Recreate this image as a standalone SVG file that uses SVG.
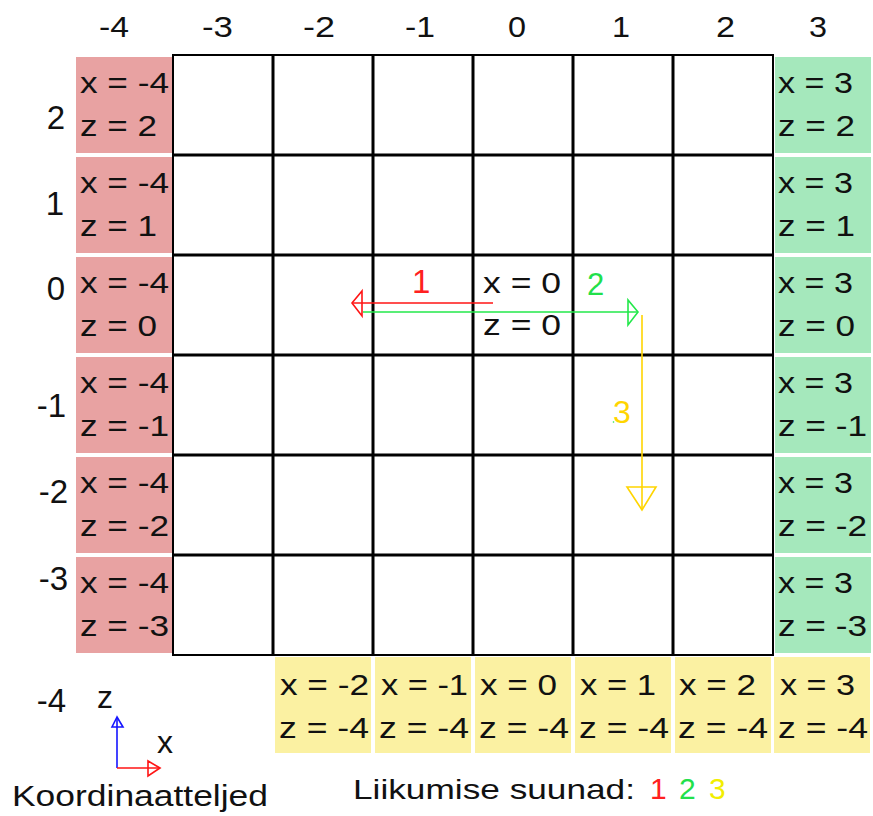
<svg xmlns="http://www.w3.org/2000/svg" width="873" height="816" viewBox="0 0 873 816">
<style>
text{font-family:"Liberation Sans",Arial,sans-serif;fill:#111}
.c{font-size:29px}
.lbl{font-size:30px}
.red{fill:#e8a2a2}
.grn{fill:#a5e8bc}
.yel{fill:#fbf1a2}
.gl{stroke:#000;stroke-width:3}
.ln{fill:none;stroke-width:1.6}
.hd{fill:none;stroke-width:1.6;stroke-linejoin:miter}
</style>
<rect width="873" height="816" fill="#fff"/>
<g id="top-labels" class="lbl">
<text x="99" y="37" textLength="30" lengthAdjust="spacingAndGlyphs">-4</text>
<text x="202" y="37" textLength="31" lengthAdjust="spacingAndGlyphs">-3</text>
<text x="303" y="37" textLength="32" lengthAdjust="spacingAndGlyphs">-2</text>
<text x="405" y="37" textLength="30" lengthAdjust="spacingAndGlyphs">-1</text>
<text x="508" y="37" textLength="18" lengthAdjust="spacingAndGlyphs">0</text>
<text x="612" y="37" textLength="18" lengthAdjust="spacingAndGlyphs">1</text>
<text x="716" y="37" textLength="19" lengthAdjust="spacingAndGlyphs">2</text>
<text x="809" y="37" textLength="18" lengthAdjust="spacingAndGlyphs">3</text>
</g>
<g id="row-labels">
<text x="65" y="129" style="font-size:33px;text-anchor:end">2</text>
<text x="64" y="215" style="font-size:33px;text-anchor:end">1</text>
<text x="65" y="300" style="font-size:33px;text-anchor:end">0</text>
<text x="66" y="417" style="font-size:33px;text-anchor:end">-1</text>
<text x="68" y="503" style="font-size:33px;text-anchor:end">-2</text>
<text x="68" y="590" style="font-size:33px;text-anchor:end">-3</text>
<text x="66" y="712" style="font-size:33px;text-anchor:end">-4</text>
</g>
<g id="grid">
<rect x="173" y="55" width="600" height="600" fill="#fff" stroke="#000" stroke-width="2"/>
<path class="gl" d="M273 55V655M373 55V655M473 55V655M573 55V655M673 55V655M173 155H773M173 255H773M173 355H773M173 455H773M173 555H773"/>
</g>
<g id="red-cells" class="c">
<rect class="red" x="76" y="57" width="96" height="96"/>
<text x="80" y="93" textLength="89" lengthAdjust="spacingAndGlyphs">x = -4</text>
<text x="80" y="136" textLength="77" lengthAdjust="spacingAndGlyphs">z = 2</text>
<rect class="red" x="76" y="157" width="96" height="96"/>
<text x="80" y="193" textLength="89" lengthAdjust="spacingAndGlyphs">x = -4</text>
<text x="80" y="236" textLength="77" lengthAdjust="spacingAndGlyphs">z = 1</text>
<rect class="red" x="76" y="257" width="96" height="96"/>
<text x="80" y="293" textLength="89" lengthAdjust="spacingAndGlyphs">x = -4</text>
<text x="80" y="336" textLength="77" lengthAdjust="spacingAndGlyphs">z = 0</text>
<rect class="red" x="76" y="357" width="96" height="96"/>
<text x="80" y="393" textLength="89" lengthAdjust="spacingAndGlyphs">x = -4</text>
<text x="80" y="436" textLength="89" lengthAdjust="spacingAndGlyphs">z = -1</text>
<rect class="red" x="76" y="457" width="96" height="96"/>
<text x="80" y="493" textLength="89" lengthAdjust="spacingAndGlyphs">x = -4</text>
<text x="80" y="536" textLength="89" lengthAdjust="spacingAndGlyphs">z = -2</text>
<rect class="red" x="76" y="557" width="96" height="96"/>
<text x="80" y="593" textLength="89" lengthAdjust="spacingAndGlyphs">x = -4</text>
<text x="80" y="636" textLength="89" lengthAdjust="spacingAndGlyphs">z = -3</text>
</g>
<g id="green-cells" class="c">
<rect class="grn" x="775" y="57" width="96" height="96"/>
<text x="778" y="93" textLength="75" lengthAdjust="spacingAndGlyphs">x = 3</text>
<text x="778" y="136" textLength="77" lengthAdjust="spacingAndGlyphs">z = 2</text>
<rect class="grn" x="775" y="157" width="96" height="96"/>
<text x="778" y="193" textLength="75" lengthAdjust="spacingAndGlyphs">x = 3</text>
<text x="778" y="236" textLength="77" lengthAdjust="spacingAndGlyphs">z = 1</text>
<rect class="grn" x="775" y="257" width="96" height="96"/>
<text x="778" y="293" textLength="75" lengthAdjust="spacingAndGlyphs">x = 3</text>
<text x="778" y="336" textLength="77" lengthAdjust="spacingAndGlyphs">z = 0</text>
<rect class="grn" x="775" y="357" width="96" height="96"/>
<text x="778" y="393" textLength="75" lengthAdjust="spacingAndGlyphs">x = 3</text>
<text x="778" y="436" textLength="89" lengthAdjust="spacingAndGlyphs">z = -1</text>
<rect class="grn" x="775" y="457" width="96" height="96"/>
<text x="778" y="493" textLength="75" lengthAdjust="spacingAndGlyphs">x = 3</text>
<text x="778" y="536" textLength="89" lengthAdjust="spacingAndGlyphs">z = -2</text>
<rect class="grn" x="775" y="557" width="96" height="96"/>
<text x="778" y="593" textLength="75" lengthAdjust="spacingAndGlyphs">x = 3</text>
<text x="778" y="636" textLength="89" lengthAdjust="spacingAndGlyphs">z = -3</text>
</g>
<g id="yellow-cells" class="c">
<rect class="yel" x="275" y="657" width="96" height="96"/>
<text x="280" y="695" textLength="89" lengthAdjust="spacingAndGlyphs">x = -2</text>
<text x="279" y="738" textLength="90" lengthAdjust="spacingAndGlyphs">z = -4</text>
<rect class="yel" x="375" y="657" width="96" height="96"/>
<text x="381" y="695" textLength="87" lengthAdjust="spacingAndGlyphs">x = -1</text>
<text x="379" y="738" textLength="90" lengthAdjust="spacingAndGlyphs">z = -4</text>
<rect class="yel" x="475" y="657" width="96" height="96"/>
<text x="480" y="695" textLength="77" lengthAdjust="spacingAndGlyphs">x = 0</text>
<text x="479" y="738" textLength="90" lengthAdjust="spacingAndGlyphs">z = -4</text>
<rect class="yel" x="575" y="657" width="96" height="96"/>
<text x="580" y="695" textLength="76" lengthAdjust="spacingAndGlyphs">x = 1</text>
<text x="579" y="738" textLength="90" lengthAdjust="spacingAndGlyphs">z = -4</text>
<rect class="yel" x="675" y="657" width="96" height="96"/>
<text x="679" y="695" textLength="77" lengthAdjust="spacingAndGlyphs">x = 2</text>
<text x="678" y="738" textLength="90" lengthAdjust="spacingAndGlyphs">z = -4</text>
<rect class="yel" x="774" y="657" width="96" height="96"/>
<text x="780" y="695" textLength="75" lengthAdjust="spacingAndGlyphs">x = 3</text>
<text x="778" y="738" textLength="90" lengthAdjust="spacingAndGlyphs">z = -4</text>
</g>
<g id="origin" class="c">
<text x="483" y="293" textLength="78" lengthAdjust="spacingAndGlyphs">x = 0</text>
<text x="483" y="335" textLength="78" lengthAdjust="spacingAndGlyphs">z = 0</text>
</g>
<g id="connectors">
<line class="ln" x1="493" y1="303" x2="353" y2="303" stroke="#ff1515"/>
<polygon class="hd" points="352,303 362,291 362,316" stroke="#ff1515"/>
<line class="ln" x1="363" y1="312" x2="637" y2="312" stroke="#22e84a"/>
<polygon class="hd" points="638,312 628,300 628,325" stroke="#22e84a"/>
<line class="ln" x1="642" y1="315" x2="642" y2="509" stroke="#ffd500"/>
<polygon class="hd" points="642,510 627,487 656,487" stroke="#ffd500"/>
<line class="ln" x1="117" y1="768" x2="117" y2="718" stroke="#1515ff"/>
<polygon class="hd" points="117,717 112,727 123,727" stroke="#1515ff"/>
<line class="ln" x1="117" y1="768" x2="159" y2="768" stroke="#ff1515"/>
<polygon class="hd" points="160,768 148,761 148,776" stroke="#ff1515"/>
</g>
<g id="arrow-labels">
<text x="412" y="293" style="font-size:33px;fill:#ff2020">1</text>
<text x="587" y="295" style="font-size:31px;fill:#22e04a">2</text>
<text x="613" y="423" style="font-size:32px;fill:#ffd500">3</text>
<circle cx="613.5" cy="422" r="0.8" fill="#22e04a"/>
</g>
<g id="axis-legend">
<text x="97" y="708" style="font-size:32px" textLength="16" lengthAdjust="spacingAndGlyphs">z</text>
<text x="157" y="753" style="font-size:32px" textLength="16" lengthAdjust="spacingAndGlyphs">x</text>
<text x="12" y="806" style="font-size:29px" textLength="256" lengthAdjust="spacingAndGlyphs">Koordinaatteljed</text>
</g>
<g id="direction-legend">
<text x="353" y="799" style="font-size:28px" textLength="282" lengthAdjust="spacingAndGlyphs">Liikumise suunad:</text>
<text x="650" y="799" style="font-size:30px;fill:#ff2020">1</text>
<text x="679" y="799" style="font-size:30px;fill:#22e04a">2</text>
<text x="709" y="799" style="font-size:30px;fill:#f2ee00">3</text>
</g>
</svg>
